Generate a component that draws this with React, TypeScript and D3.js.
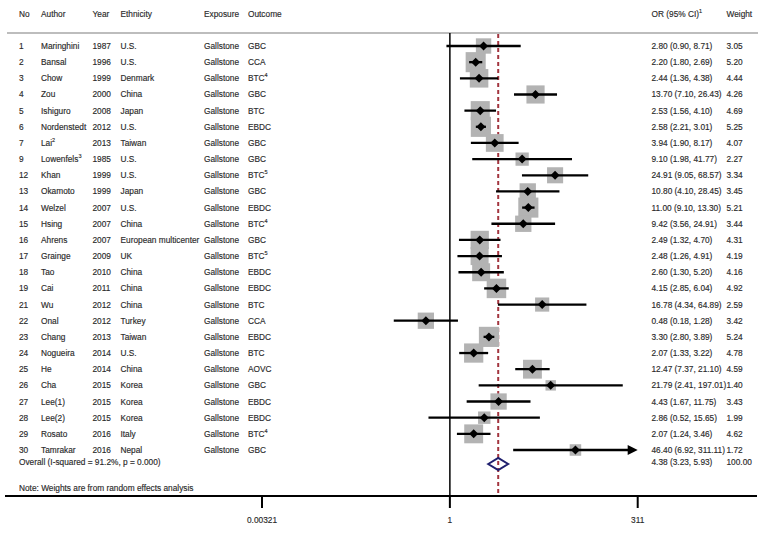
import React from "react";
import * as d3 from "d3";

const nos = ["1","2","3","4","5","6","7","9","12","13","14","15","16","17","18","19","21","22","23","24","25","26","27","28","29","30"];
const authors = ["Maringhini","Bansal","Chow","Zou","Ishiguro","Nordenstedt","Lai","Lowenfels","Khan","Okamoto","Welzel","Hsing","Ahrens","Grainge","Tao","Cai","Wu","Onal","Chang","Nogueira","He","Cha","Lee(1)","Lee(2)","Rosato","Tamrakar"];
const authorSup = ["","","","","","","2","3","","","","","","","","","","","","","","","","","",""];
const years = ["1987","1996","1999","2000","2008","2012","2013","1985","1999","1999","2007","2007","2007","2009","2010","2011","2012","2012","2013","2014","2014","2015","2015","2015","2016","2016"];
const ethnicities = ["U.S.","U.S.","Denmark","China","Japan","U.S.","Taiwan","U.S.","U.S.","Japan","U.S.","China","European multicenter","UK","China","China","China","Turkey","Taiwan","U.S.","China","Korea","Korea","Korea","Italy","Nepal"];
const outcomes = ["GBC","CCA","BTC","GBC","BTC","EBDC","GBC","GBC","BTC","GBC","EBDC","BTC","GBC","BTC","EBDC","EBDC","BTC","CCA","EBDC","BTC","AOVC","GBC","EBDC","EBDC","BTC","GBC"];
const outcomeSup = ["","","4","","","","","","5","","","4","","5","","","","","","","","","","","4",""];
const ors = [2.80,2.20,2.44,13.70,2.53,2.58,3.94,9.10,24.91,10.80,11.00,9.42,2.49,2.48,2.60,4.15,16.78,0.48,3.30,2.07,12.47,21.79,4.43,2.86,2.07,46.40];
const lows = [0.90,1.80,1.36,7.10,1.56,2.21,1.90,1.98,9.05,4.10,9.10,3.56,1.32,1.26,1.30,2.85,4.34,0.18,2.80,1.33,7.37,2.41,1.67,0.52,1.24,6.92];
const highs = [8.71,2.69,4.38,26.43,4.10,3.01,8.17,41.77,68.57,28.45,13.30,24.91,4.70,4.91,5.20,6.04,64.89,1.28,3.89,3.22,21.10,197.01,11.75,15.65,3.46,311.11];
const weights = [3.05,5.20,4.44,4.26,4.69,5.25,4.07,2.27,3.34,3.45,5.21,3.44,4.31,4.19,4.16,4.92,2.59,3.42,5.24,4.78,4.59,1.40,3.43,1.99,4.62,1.72];
const overall = { or: 4.38, low: 3.23, high: 5.93, weight: 100.0 };
const overallLabel = "Overall  (I-squared = 91.2%, p = 0.000)";
const noteLabel = "Note: Weights  are from random  effects analysis";
const tickValues = [0.00321, 1, 311];
const tickLabels = ["0.00321", "1", "311"];

const FONT = "'Liberation Sans', Arial, sans-serif";
const TXT = "#2a2a2a";

export default function App() {
  const W = 763, H = 533;
  const x = d3.scaleLog().domain([0.00321, 311]).range([262, 637.7]);
  const y = d3.scalePoint<string>().domain(nos).range([46, 450]);
  const yOverall = 463;
  const axisY = 496;
  const f2 = d3.format(".2f");
  const boxScale = d3.scaleSqrt().domain([0, 1]).range([0, 8.8]);
  const xMax = 311;

  const cols = { no: 19, author: 41, year: 92.5, eth: 120.5, exp: 204, out: 248, or: 651.5, wt: 726.5 };
  const fs = 8.3;

  const txt = (t: string, xx: number, yy: number, sup = "", anchor = "start", key?: string) => (
    <text key={key} x={xx} y={yy + 3} fontSize={fs} fill={TXT} textAnchor={anchor} fontFamily={FONT} stroke={TXT} strokeWidth={0.15}>
      {t}
      {sup ? <tspan fontSize={5.5} dy={-4}>{sup}</tspan> : null}
    </text>
  );

  return (
    <svg width={W} height={H} style={{ position: "absolute", left: 0, top: 0, background: "#fff" }}>
      <rect x={0} y={0} width={W} height={H} fill="#fff" />
      {/* header */}
      {txt("No", cols.no, 14)}
      {txt("Author", cols.author, 14)}
      {txt("Year", cols.year, 14)}
      {txt("Ethnicity", cols.eth, 14)}
      {txt("Exposure", cols.exp, 14)}
      {txt("Outcome", cols.out, 14)}
      {txt("OR (95% CI)", cols.or, 14, "1")}
      {txt("Weight", cols.wt, 14)}
      <line x1={7} x2={758} y1={33} y2={33} stroke="#bdbdbd" strokeWidth={2} />

      {/* reference lines */}
      <line x1={x(1)} x2={x(1)} y1={33} y2={axisY} stroke="#000" strokeWidth={1.5} />
      <line x1={x(overall.or)} x2={x(overall.or)} y1={34} y2={axisY} stroke="#a3353f" strokeWidth={2} strokeDasharray="4,3" />

      {/* boxes */}
      {nos.map((n, i) => {
        const s = boxScale(weights[i]);
        return <rect key={"b" + n} x={x(ors[i]) - s / 2} y={(y(n) as number) - s / 2} width={s} height={s} fill="#b3b3b3" />;
      })}
      {/* CIs */}
      {nos.map((n, i) => {
        const yy = y(n) as number;
        const hi = Math.min(highs[i], xMax);
        const clipped = highs[i] > xMax;
        return (
          <g key={"c" + n}>
            <line x1={x(lows[i])} x2={clipped ? x(hi) - 8 : x(hi)} y1={yy} y2={yy} stroke="#000" strokeWidth={2.3} />
            {clipped ? (
              <path d={`M${x(hi)},${yy} L${x(hi) - 10},${yy - 5} L${x(hi) - 10},${yy + 5} Z`} fill="#000" />
            ) : null}
            <path d={`M${x(ors[i]) - 4.5},${yy} L${x(ors[i])},${yy - 4.5} L${x(ors[i]) + 4.5},${yy} L${x(ors[i])},${yy + 4.5} Z`} fill="#000" />
          </g>
        );
      })}
      {/* overall diamond */}
      <path
        d={`M${x(overall.low)},${yOverall + 1} L${x(overall.or)},${yOverall - 5} L${x(overall.high)},${yOverall + 1} L${x(overall.or)},${yOverall + 7} Z`}
        fill="none" stroke="#1f1f6e" strokeWidth={2}
      />

      {/* table rows */}
      {nos.map((n, i) => {
        const yy = y(n) as number;
        return (
          <g key={"r" + n}>
            {txt(n, cols.no, yy)}
            {txt(authors[i], cols.author, yy, authorSup[i])}
            {txt(years[i], cols.year, yy)}
            {txt(ethnicities[i], cols.eth, yy)}
            {txt("Gallstone", cols.exp, yy)}
            {txt(outcomes[i], cols.out, yy, outcomeSup[i])}
            {txt(`${f2(ors[i])} (${f2(lows[i])}, ${f2(highs[i])})`, cols.or, yy)}
            {txt(f2(weights[i]), cols.wt, yy)}
          </g>
        );
      })}
      {txt(overallLabel, cols.no, yOverall - 1)}
      {txt(`${f2(overall.or)} (${f2(overall.low)}, ${f2(overall.high)})`, cols.or, yOverall - 1)}
      {txt(f2(overall.weight), cols.wt, yOverall - 1)}
      {txt(noteLabel, cols.no, 488)}

      {/* axis */}
      <line x1={5} x2={757} y1={axisY} y2={axisY} stroke="#000" strokeWidth={1.8} />
      {tickValues.map((t, i) => (
        <g key={"t" + i}>
          <line x1={x(t)} x2={x(t)} y1={axisY} y2={axisY + 12} stroke="#000" strokeWidth={2} />
          {txt(tickLabels[i], x(t), 520, "", "middle")}
        </g>
      ))}
    </svg>
  );
}
